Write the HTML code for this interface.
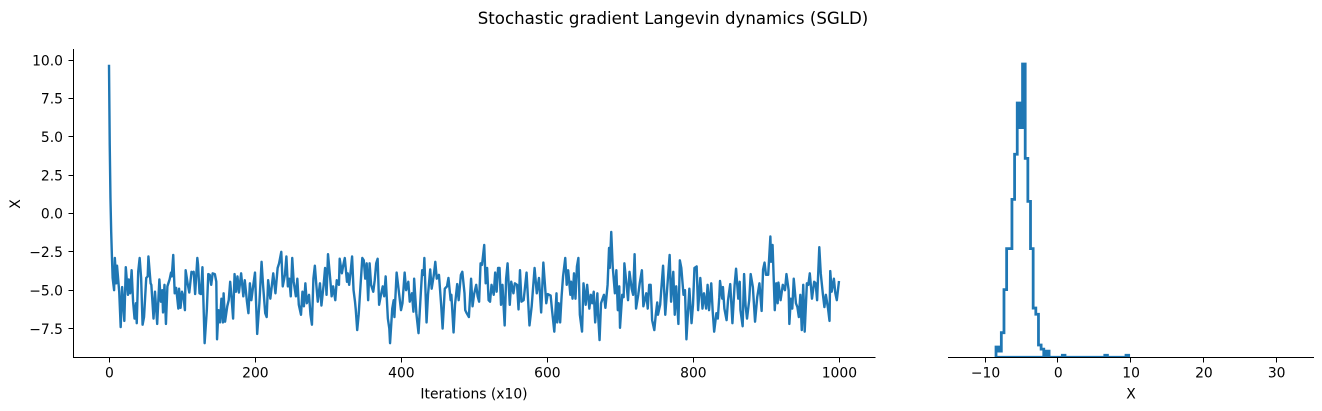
<!DOCTYPE html>
<html lang="en">
<head>
<meta charset="utf-8">
<title>Stochastic gradient Langevin dynamics (SGLD)</title>
<style>
html,body{margin:0;padding:0;background:#fff;width:1322px;height:411px;overflow:hidden}
svg{display:block}
text{font-family:"DejaVu Sans","Liberation Sans",sans-serif;fill:#000}
</style>
</head>
<body>
<svg id="chart" xmlns="http://www.w3.org/2000/svg" width="1322" height="411" viewBox="0 0 1322 411">
  <defs>
    <clipPath id="trace-clip"><rect x="73" y="49" width="802" height="308"/></clipPath>
    <clipPath id="hist-clip"><rect x="948" y="49" width="366" height="308"/></clipPath>
  </defs>
  <text x="673" y="24" font-size="16.6" text-anchor="middle">Stochastic gradient Langevin dynamics (SGLD)</text>
  <g id="trace-axes"></g>
  <g id="hist-axes"></g>
  <text x="474" y="398.500" font-size="13.89" text-anchor="middle">Iterations (x10)</text>
  <text x="20" y="204" font-size="13.89" text-anchor="middle" transform="rotate(-90 20 204)">X</text>
  <text x="1131" y="398.500" font-size="13.89" text-anchor="middle">X</text>
</svg>
<script>
const traceIterations = [0,1,2,3,4,5,7,8,10,11,14,16,18,21,23,26,27,29,31,33,35,37,38,40,42,44,46,48,51,53,54,57,58,61,63,66,69,71,73,74,76,78,80,83,85,86,88,90,92,95,96,98,100,102,104,105,108,110,113,115,116,118,121,122,124,126,128,131,134,136,138,140,142,145,147,148,150,152,154,156,157,159,162,164,166,168,170,172,174,176,178,181,184,186,189,191,193,195,198,200,203,206,209,211,214,216,218,221,225,228,231,233,236,238,241,243,245,247,249,251,253,256,258,260,263,265,267,269,271,274,276,278,280,282,284,286,289,291,294,296,298,300,303,305,307,310,312,315,316,319,321,323,326,327,329,331,333,335,337,338,340,342,344,347,349,351,353,355,357,359,362,364,366,368,370,373,375,377,379,382,384,385,388,390,391,394,396,400,402,405,407,410,412,415,417,418,421,424,427,429,431,432,435,437,440,442,445,447,449,452,455,457,460,463,465,468,469,472,474,477,479,482,484,487,488,490,493,496,498,500,503,505,507,509,511,514,516,518,520,522,524,527,529,531,533,535,537,539,542,544,546,549,551,554,556,559,561,563,565,568,572,576,579,583,586,589,592,595,599,601,605,607,610,613,614,616,618,620,622,625,627,629,632,633,635,637,639,641,643,645,648,650,653,655,658,660,662,664,666,669,670,672,674,678,680,683,685,686,688,690,693,695,697,699,700,703,705,706,709,711,713,716,718,720,722,725,727,730,732,736,738,740,742,744,747,749,751,752,755,759,762,765,768,770,773,775,777,780,782,784,787,789,791,795,798,800,802,805,807,810,813,815,818,820,822,825,827,829,832,834,836,837,840,841,843,846,848,851,854,857,859,862,864,865,868,870,872,874,877,879,882,885,888,891,894,896,898,900,903,906,907,909,912,914,916,917,920,923,926,928,931,932,934,936,938,941,943,945,947,949,951,953,956,958,960,963,966,968,970,973,975,978,980,982,985,987,988,990,993,995,997,1000];
const traceValues = [9.7,4.5,1.0,-1.2,-2.8,-4.2,-5.0,-2.9,-4.55,-3.4,-5.1,-7.4,-4.8,-7.0,-3.5,-5.3,-4.3,-5.2,-3.7,-5.75,-6.85,-5.85,-7.15,-3.8,-2.9,-4.2,-7.25,-6.75,-4.2,-4.1,-2.8,-4.55,-4.65,-6.85,-5.1,-7.2,-4.3,-5.75,-5.0,-6.45,-4.65,-7.2,-4.75,-4.3,-3.85,-4.1,-2.7,-5.2,-4.85,-6.2,-4.9,-6.15,-5.1,-5.4,-6.3,-3.7,-4.65,-5.15,-3.8,-3.9,-3.8,-5.25,-2.9,-3.35,-5.2,-5.25,-3.5,-8.45,-6.3,-3.95,-4.0,-4.65,-3.9,-3.95,-4.45,-8.2,-6.3,-7.1,-5.55,-7.1,-5.2,-7.05,-6.05,-5.65,-4.45,-5.55,-6.85,-3.95,-5.1,-4.1,-5.15,-3.9,-5.4,-4.35,-5.75,-6.5,-4.55,-5.65,-4.55,-3.85,-7.85,-5.85,-3.15,-4.65,-6.5,-6.75,-4.35,-5.55,-3.9,-5.2,-3.55,-3.25,-2.5,-4.75,-4.0,-2.8,-4.75,-4.25,-5.4,-2.9,-4.45,-5.4,-4.25,-5.95,-6.6,-5.1,-6.05,-4.55,-5.85,-5.3,-6.6,-7.25,-4.25,-3.4,-4.65,-5.75,-4.55,-6.0,-4.65,-3.55,-5.3,-2.65,-4.25,-5.4,-4.75,-5.65,-4.35,-4.65,-2.95,-3.9,-3.35,-2.9,-4.45,-3.9,-4.65,-3.8,-2.8,-5.0,-5.75,-6.25,-7.6,-6.6,-5.1,-2.9,-3.05,-4.25,-3.25,-5.65,-3.25,-4.65,-5.1,-4.35,-3.25,-2.95,-5.95,-5.2,-4.75,-5.4,-4.1,-6.85,-7.5,-8.45,-6.2,-5.65,-6.75,-3.85,-4.65,-6.3,-5.85,-3.85,-5.0,-4.45,-5.75,-5.2,-6.4,-4.25,-6.5,-7.8,-5.3,-3.7,-4.0,-2.9,-7.1,-5.3,-3.65,-4.9,-4.0,-3.15,-4.25,-4.0,-5.95,-7.5,-4.9,-4.75,-4.2,-5.65,-5.3,-7.75,-5.95,-4.6,-5.65,-4.0,-3.8,-5.2,-6.3,-6.5,-6.75,-4.25,-6.05,-5.3,-4.65,-5.4,-5.75,-3.25,-3.35,-2.05,-4.55,-3.55,-5.65,-5.75,-4.65,-5.3,-3.85,-5.1,-3.55,-3.55,-5.95,-4.65,-7.3,-4.25,-3.25,-5.95,-4.45,-5.2,-4.55,-4.65,-6.25,-3.7,-5.75,-5.65,-3.85,-7.3,-6.05,-3.55,-5.2,-4.2,-6.45,-3.2,-5.85,-5.25,-5.35,-6.35,-7.7,-5.2,-7.1,-5.85,-7.1,-5.4,-4.1,-2.9,-4.65,-3.7,-5.3,-4.45,-5.55,-3.9,-5.55,-3.45,-2.9,-6.6,-7.7,-4.55,-5.95,-4.65,-6.2,-5.3,-5.85,-5.1,-7.1,-5.2,-6.6,-8.25,-5.85,-5.3,-6.15,-4.65,-2.25,-3.55,-1.2,-3.45,-5.2,-3.7,-6.3,-4.75,-7.45,-5.3,-5.45,-3.25,-4.65,-5.65,-3.8,-4.9,-5.3,-2.65,-6.2,-5.3,-4.55,-3.7,-6.05,-5.2,-6.2,-4.65,-4.65,-6.95,-7.6,-6.6,-5.8,-6.6,-5.95,-3.4,-6.6,-4.65,-2.7,-5.75,-3.8,-6.6,-4.75,-7.2,-3.05,-3.55,-5.3,-5.0,-8.2,-4.9,-7.15,-5.95,-3.55,-3.45,-6.3,-4.2,-6.2,-5.2,-6.2,-4.65,-6.3,-4.55,-6.4,-7.7,-6.5,-6.85,-5.45,-4.4,-5.55,-4.8,-6.2,-6.95,-5.65,-4.6,-7.15,-4.65,-3.6,-5.55,-4.45,-6.3,-7.35,-3.95,-6.0,-6.85,-5.65,-3.95,-4.8,-7.05,-5.45,-4.55,-6.35,-3.65,-3.2,-4.0,-4.0,-1.5,-3.15,-2.05,-6.3,-4.55,-5.85,-4.5,-5.65,-4.65,-5.0,-3.95,-5.0,-7.2,-5.55,-6.2,-4.25,-5.85,-6.1,-6.75,-5.3,-7.6,-4.65,-7.7,-4.55,-4.65,-3.9,-5.55,-4.45,-4.55,-5.65,-2.2,-3.9,-5.3,-6.1,-5.3,-6.2,-7.0,-3.75,-5.1,-4.25,-5.2,-5.65,-4.4];
const traceXTicks = [0,200,400,600,800,1000];
const traceYTicks = [10,7.5,5,2.5,0,-2.5,-5,-7.5];
const histCounts = [5,3,12,33,53,53,77,99,124,112,143,97,76,53,24,21,6,4,1,3,0,0,0,0,0,1,0,0,0,0,0,0,0,0,0,0,0,0,0,0,0,1,0,0,0,0,0,0,0,1];
const histRange = [-8.5,9.72];
const histXTicks = [-10,0,10,20,30];

const NS = 'http://www.w3.org/2000/svg';
const BLUE = '#1f77b4';
const traceAxes = document.getElementById('trace-axes');
const histAxes = document.getElementById('hist-axes');

function traceX(v){ return 109 + 0.73 * v; }
function traceY(v){ return 213.5 - 15.34 * v; }
function histX(v){ return 1057.9 + 7.28 * v; }
function histY(c){ return 357.3 - c * 293.3 / 143; }
function snap(p){ return Math.floor(p) + 0.5; }

function make(tag, attrs, parent){
  const el = document.createElementNS(NS, tag);
  for (const k in attrs) el.setAttribute(k, attrs[k]);
  parent.appendChild(el);
  return el;
}
function minus(s){ return String(s).replace('-', '\u2212'); }

// trace line
let traceD = '';
traceIterations.forEach(function(it, i){
  traceD += (i ? 'L' : 'M') + traceX(it).toFixed(2) + ' ' + traceY(traceValues[i]).toFixed(2);
});
const traceLine = make('path', {d: traceD, fill: 'none', stroke: BLUE, 'stroke-width': 2.4, 'stroke-linejoin': 'round', 'clip-path': 'url(#trace-clip)'}, traceAxes);



// trace spines
const traceLeft = make('line', {x1: 73.5, y1: 49, x2: 73.5, y2: 358, stroke: '#000', 'stroke-width': 1}, traceAxes);


const traceBottom = make('line', {x1: 73, y1: 357.5, x2: 875.5, y2: 357.5, stroke: '#000', 'stroke-width': 1}, traceAxes);



// trace x ticks
traceXTicks.forEach(function(t){
  const x = traceX(t);
  const mark = make('line', {x1: snap(x), y1: 357.5, x2: snap(x), y2: 362.5, stroke: '#000', 'stroke-width': 1}, traceAxes);
  
  
  const label = make('text', {x: x + 0.4, y: 377.5, 'font-size': 13.89, 'text-anchor': 'middle'}, traceAxes);
  label.textContent = minus(t);
  
  
});

// trace y ticks
traceYTicks.forEach(function(t){
  const y = traceY(t);
  const mark = make('line', {x1: 68.5, y1: snap(y), x2: 73, y2: snap(y), stroke: '#000', 'stroke-width': 1}, traceAxes);
  
  
  const label = make('text', {x: 63, y: y + 5.2, 'font-size': 13.89, 'text-anchor': 'end'}, traceAxes);
  label.textContent = minus(t.toFixed(1));
  
  
});

// histogram outline
const binWidth = (histRange[1] - histRange[0]) / histCounts.length;
let histD = 'M' + histX(histRange[0]).toFixed(2) + ' ' + histY(0).toFixed(2);
histCounts.forEach(function(c, i){
  const x0 = histX(histRange[0] + i * binWidth).toFixed(2);
  const x1 = histX(histRange[0] + (i + 1) * binWidth).toFixed(2);
  const y = histY(c).toFixed(2);
  histD += 'L' + x0 + ' ' + y + 'L' + x1 + ' ' + y;
});
histD += 'L' + histX(histRange[1]).toFixed(2) + ' ' + histY(0).toFixed(2) + 'Z';
const histLine = make('path', {d: histD, fill: 'none', stroke: BLUE, 'stroke-width': 2.78, 'stroke-linejoin': 'miter', 'clip-path': 'url(#hist-clip)'}, histAxes);



// histogram spine
const histBottom = make('line', {x1: 948, y1: 357.5, x2: 1314, y2: 357.5, stroke: '#000', 'stroke-width': 1}, histAxes);



// histogram x ticks
histXTicks.forEach(function(t){
  const x = histX(t);
  const mark = make('line', {x1: snap(x), y1: 357.5, x2: snap(x), y2: 362.5, stroke: '#000', 'stroke-width': 1}, histAxes);
  
  
  const label = make('text', {x: x + 0.4, y: 377.5, 'font-size': 13.89, 'text-anchor': 'middle'}, histAxes);
  label.textContent = minus(t);
  
  
});
</script>
</body>
</html>
